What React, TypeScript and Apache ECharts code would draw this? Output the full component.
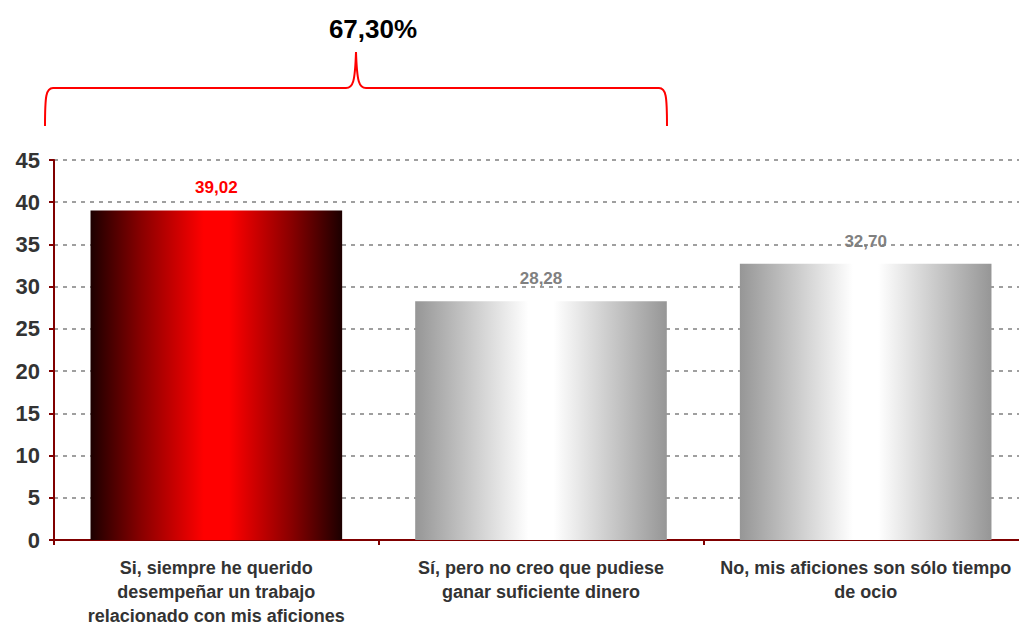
import React, { useEffect, useRef } from "react";
import * as echarts from "echarts";

const categories = [
  "Si, siempre he querido\ndesempeñar un trabajo\nrelacionado con mis aficiones",
  "Sí, pero no creo que pudiese\nganar suficiente dinero",
  "No, mis aficiones son sólo tiempo\nde ocio",
];
const values = [39.02, 28.28, 32.7];
const highlightIndex = 0;
const bracketLabel = "67,30%";
const yMin = 0;
const yMax = 45;
const yInterval = 5;

const redGradient = new echarts.graphic.LinearGradient(0, 0, 1, 0, [
  { offset: 0, color: "#1c0000" },
  { offset: 0.2, color: "#880000" },
  { offset: 0.45, color: "#ff0000" },
  { offset: 0.55, color: "#ff0000" },
  { offset: 0.8, color: "#880000" },
  { offset: 1, color: "#1c0000" },
]);
const grayGradient = new echarts.graphic.LinearGradient(0, 0, 1, 0, [
  { offset: 0, color: "#969696" },
  { offset: 0.45, color: "#ffffff" },
  { offset: 0.55, color: "#ffffff" },
  { offset: 1, color: "#969696" },
]);

const braceD =
  "M45,126 C45,96 46,88 53,88 L346,88 C353,88 355,82 356,52 C357,82 359,88 366,88 L659,88 C666,88 667,96 667,126";
echarts.graphic.registerShape("brace", echarts.graphic.extendPath(braceD, {}));

const FONT = "'Liberation Sans', Arial, sans-serif";

export default function App() {
  const ref = useRef<HTMLDivElement>(null);
  useEffect(() => {
    const chart = echarts.init(ref.current!, null, { renderer: "svg" });
    chart.setOption({
      animation: false,
      grid: { left: 54, right: 0, top: 160, bottom: 85, containLabel: false },
      xAxis: {
        type: "category",
        data: categories,
        axisLine: { lineStyle: { color: "#800000", width: 2 } },
        axisTick: { show: true, length: 5, lineStyle: { color: "#800000", width: 2 } },
        axisLabel: {
          interval: 0,
          color: "#333333",
          fontFamily: FONT,
          fontWeight: "bold",
          fontSize: 18,
          lineHeight: 24,
          margin: 16,
          overflow: "none",
        },
      },
      yAxis: {
        type: "value",
        min: yMin,
        max: yMax,
        interval: yInterval,
        axisLine: { show: true, lineStyle: { color: "#800000", width: 2 } },
        axisTick: { show: true, length: 5, lineStyle: { color: "#800000", width: 2 } },
        axisLabel: {
          color: "#333333",
          fontFamily: FONT,
          fontWeight: "bold",
          fontSize: 22,
          margin: 14,
        },
        splitLine: {
          show: true,
          lineStyle: { color: "#808080", type: [4, 5], width: 1.5 },
        },
      },
      series: [
        {
          type: "bar",
          barWidth: "77.5%",
          data: values.map((v, i) => ({
            value: v,
            itemStyle: { color: i === highlightIndex ? redGradient : grayGradient },
            label: {
              color: i === highlightIndex ? "#ff0000" : "#808080",
            },
          })),
          label: {
            show: true,
            position: "top",
            distance: 14,
            fontFamily: FONT,
            fontWeight: "bold",
            fontSize: 17,
            formatter: (p: any) => p.value.toFixed(2).replace(".", ","),
          },
        },
      ],
      graphic: [
        {
          type: "brace",
          x: 0,
          y: 0,
          style: { stroke: "#ff0000", fill: null, lineWidth: 2 },
          silent: true,
        },
        {
          type: "text",
          x: 373,
          y: 29,
          style: {
            text: bracketLabel,
            fill: "#000000",
            font: `bold 26px ${FONT}`,
            textAlign: "center",
            textVerticalAlign: "middle",
          },
        },
      ],
    });
    return () => chart.dispose();
  }, []);
  return (
    <div
      style={{ position: "absolute", left: 0, top: 0, width: 1019, height: 628, overflow: "hidden" }}
    >
      <div ref={ref} style={{ width: 1028, height: 628 }} />
    </div>
  );
}
